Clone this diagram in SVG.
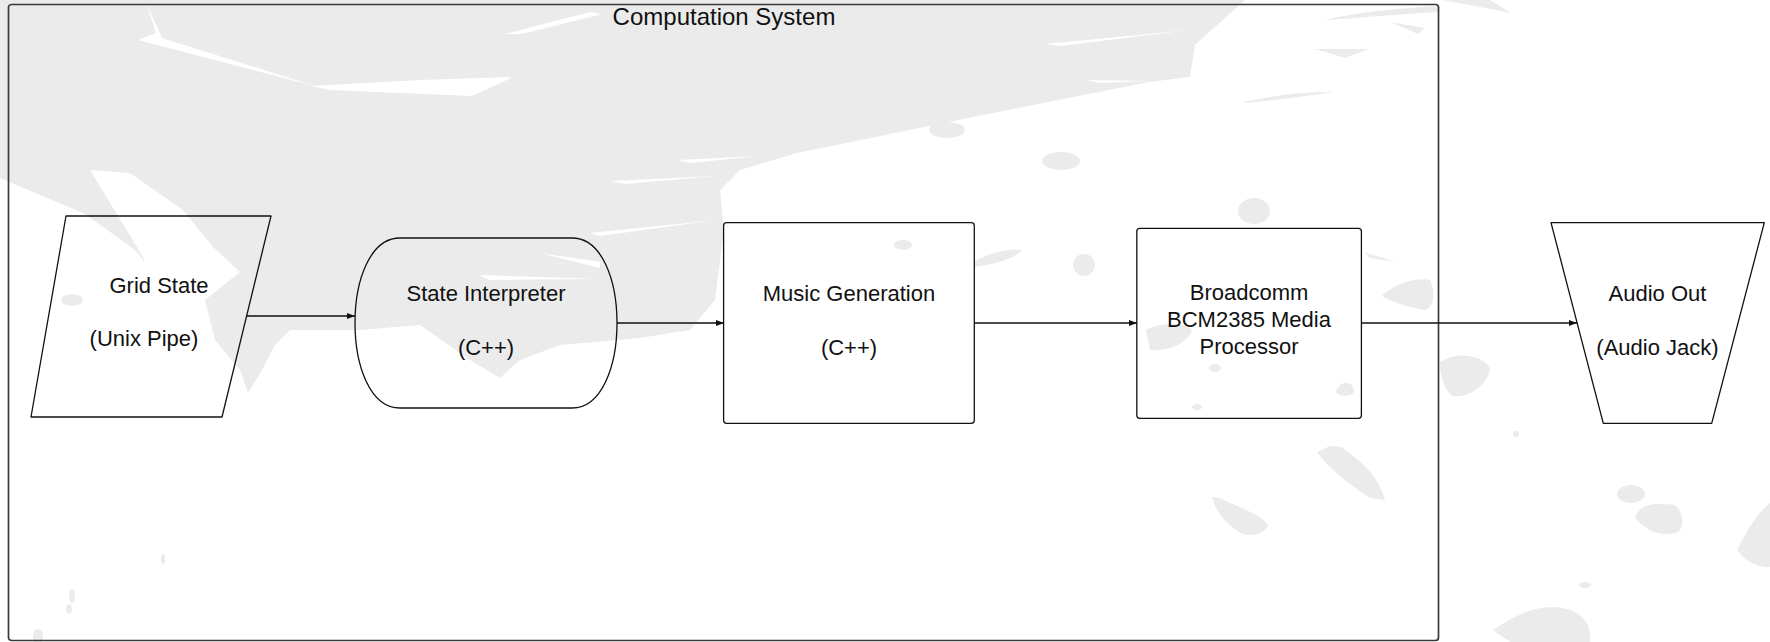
<svg xmlns="http://www.w3.org/2000/svg" width="1770" height="642" viewBox="0 0 1770 642">
<defs>
<style>
.bg{fill:#ebebeb;stroke:none}
.gap{fill:#ffffff;stroke:none}
.shape{fill:none;stroke:#111;stroke-width:1.3;stroke-linejoin:round}
.frame{fill:none;stroke:#3a3a3a;stroke-width:1.7}
.lbl{font-family:"Liberation Sans",Arial,sans-serif;font-size:22px;fill:#111;text-anchor:middle}
.title{font-family:"Liberation Sans",Arial,sans-serif;font-size:24px;fill:#111;text-anchor:middle}
.edge{fill:none;stroke:#111;stroke-width:1.3}
</style>
<marker id="arr" viewBox="0 0 8 6" refX="8" refY="3" markerWidth="8" markerHeight="6" markerUnits="userSpaceOnUse" orient="auto">
<path d="M0,0 L8,3 L0,6 Z" fill="#111"/>
</marker>
</defs>
<rect x="0" y="0" width="1770" height="642" fill="#ffffff"/>
<g id="background">
<path class="bg" d="M0,0 H1245 L1195,45 L1190,77 L1149,82 L973,117 L797,153 L740,170 L720,190 L724,230 L715,300 L690,330 L640,338 L560,345 L520,360 L500,378 L470,360 L420,325 L360,330 L290,330 L275,345 L262,370 L248,393 L240,370 L215,340 L205,300 L145,262 L135,250 L85,214 L0,178 Z"/>
<path class="gap" d="M147,5 L156,33 L138,40 L315,86 L162,38 Z"/>
<path class="gap" d="M310,86 L420,80 L513,77 L472,96 L330,90 Z"/>
<path class="gap" d="M505,34 L590,12 L602,14 L522,34 Z"/>
<path class="gap" d="M678,160 L758,156 L690,163 Z"/>
<path class="gap" d="M611,181 L716,176 L625,184 Z"/>
<path class="gap" d="M1045,44 L1190,30 L1060,46 Z"/>
<path class="gap" d="M1087,80 L1149,81 L1100,83 Z"/>
<path class="gap" d="M90,170 L130,173 L183,210 L213,247 L240,272 L205,300 L150,280 L143,257 Z"/>
<path class="gap" d="M478,275 L600,279 L490,280 Z"/>
<path class="gap" d="M540,253 L600,262 L600,268 Z"/>
<path class="gap" d="M590,233 L716,220 L600,236 Z"/>
<ellipse class="bg" cx="72" cy="300" rx="11" ry="6"/>
<ellipse class="bg" cx="947" cy="130" rx="18" ry="8"/>
<ellipse class="bg" cx="1061" cy="161" rx="19" ry="9"/>
<ellipse class="bg" cx="1254" cy="211" rx="16" ry="13"/>
<ellipse class="bg" cx="903" cy="245" rx="9" ry="5"/>
<path class="bg" d="M974,262 C990,252 1010,248 1022,250 C1015,258 998,264 974,267 Z"/>
<ellipse class="bg" cx="1084" cy="265" rx="11" ry="11"/>
<ellipse class="bg" cx="665" cy="299" rx="6" ry="6"/>
<path class="bg" d="M1146,330 C1160,322 1185,322 1192,330 C1188,342 1170,352 1150,350 Z"/>
<ellipse class="bg" cx="1345" cy="391" rx="9" ry="5"/>
<path class="bg" d="M1364,252 L1396,262 L1370,258 Z"/>
<path class="bg" d="M1382,296 C1395,282 1420,277 1430,280 C1436,292 1434,308 1425,310 C1410,308 1392,302 1382,296 Z"/>
<path class="bg" d="M1440,362 C1455,352 1480,353 1490,368 C1488,385 1470,398 1452,396 C1445,390 1440,378 1440,362 Z"/>
<ellipse class="bg" cx="1346" cy="388" rx="7" ry="5"/>
<ellipse class="bg" cx="1215" cy="368" rx="6" ry="4"/>
<ellipse class="bg" cx="1197" cy="407" rx="5" ry="3"/>
<ellipse class="bg" cx="1516" cy="434" rx="3" ry="3"/>
<path class="bg" d="M1317,452 L1330,446 L1341,447 C1360,460 1378,475 1385,500 L1370,498 C1350,485 1330,470 1317,452 Z"/>
<path class="bg" d="M1212,497 L1220,498 C1240,508 1262,515 1268,525 C1265,533 1255,537 1243,534 C1228,526 1215,512 1212,497 Z"/>
<ellipse class="bg" cx="1631" cy="494" rx="14" ry="9"/>
<path class="bg" d="M1635,518 C1640,505 1650,502 1675,505 C1684,512 1684,528 1678,532 C1665,536 1652,536 1635,518 Z"/>
<path class="bg" d="M1770,503 C1755,515 1745,535 1737,550 C1745,562 1760,568 1770,567 Z"/>
<path class="bg" d="M1493,630 C1515,615 1535,606 1555,607 C1580,609 1592,622 1590,642 L1510,642 Z"/>
<ellipse class="bg" cx="1585" cy="585" rx="6" ry="3"/>
<path class="bg" d="M1323,20 C1360,12 1400,8 1440,6 L1440,12 C1400,14 1360,18 1323,20 Z"/>
<path class="bg" d="M1390,22 L1425,28 L1418,34 Z"/>
<path class="bg" d="M1443,0 L1511,13 L1490,0 Z"/>
<path class="bg" d="M1315,49 L1368,49 L1345,58 Z"/>
<path class="bg" d="M1244,102 C1270,96 1300,92 1334,92 C1300,97 1270,101 1244,103 Z"/>
<path class="bg" d="M1130,55 C1150,46 1175,48 1180,58 C1172,64 1150,66 1130,62 Z"/>
<ellipse class="bg" cx="72" cy="596" rx="3" ry="7"/>
<ellipse class="bg" cx="69" cy="609" rx="3" ry="5"/>
<ellipse class="bg" cx="38" cy="637" rx="5" ry="8"/>
<ellipse class="bg" cx="163" cy="559" rx="2" ry="5"/>
</g>
<g id="computation-system">
<rect class="frame" x="8.5" y="4.5" width="1430" height="636" rx="3"/>
<text class="title" x="724" y="25">Computation System</text>
</g>
<g id="connectors">
<line class="edge" x1="246" y1="316" x2="355" y2="316" marker-end="url(#arr)"/>
<line class="edge" x1="617" y1="323" x2="724" y2="323" marker-end="url(#arr)"/>
<line class="edge" x1="974" y1="323" x2="1137" y2="323" marker-end="url(#arr)"/>
<line class="edge" x1="1361" y1="323" x2="1577" y2="323" marker-end="url(#arr)"/>
</g>
<g id="grid-state">
<polygon class="shape" points="66,216 271,216 222,417 31,417"/>
<text class="lbl" x="159" y="293">Grid State</text>
<text class="lbl" x="144" y="346">(Unix Pipe)</text>
</g>
<g id="state-interpreter">
<path class="shape" d="M400,238 H572 C632,238 632,408 572,408 H400 C340,408 340,238 400,238 Z"/>
<text class="lbl" x="486" y="301">State Interpreter</text>
<text class="lbl" x="486" y="355">(C++)</text>
</g>
<g id="music-generation">
<rect class="shape" x="723.6" y="222.7" width="250.7" height="200.6" rx="3"/>
<text class="lbl" x="849" y="300.5">Music Generation</text>
<text class="lbl" x="849" y="355">(C++)</text>
</g>
<g id="broadcomm">
<rect class="shape" x="1136.8" y="228.3" width="224.6" height="190" rx="3"/>
<text class="lbl" x="1249" y="300">Broadcomm</text>
<text class="lbl" x="1249" y="327">BCM2385 Media</text>
<text class="lbl" x="1249" y="353.5">Processor</text>
</g>
<g id="audio-out">
<polygon class="shape" points="1551,222.7 1764.3,222.7 1711.7,423.3 1603.3,423.3"/>
<text class="lbl" x="1657.5" y="300.5">Audio Out</text>
<text class="lbl" x="1657.5" y="355">(Audio Jack)</text>
</g>
</svg>
